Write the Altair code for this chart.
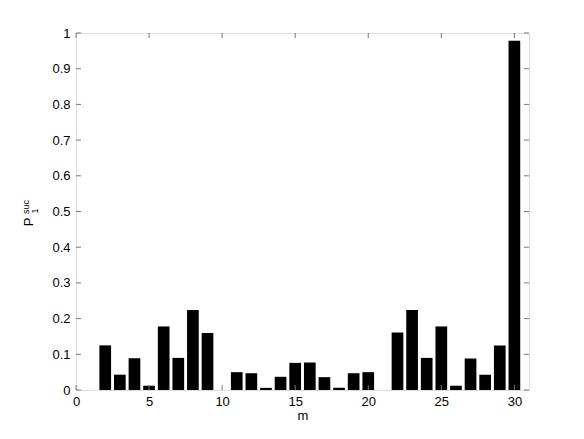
import altair as alt
import pandas as pd

# data
m_values = list(range(1, 31))
p_values = [0.0, 0.125, 0.043, 0.089, 0.012, 0.178, 0.090, 0.224, 0.160, 0.0,
            0.050, 0.047, 0.006, 0.037, 0.076, 0.077, 0.036, 0.006, 0.047, 0.050,
            0.0, 0.161, 0.224, 0.090, 0.178, 0.012, 0.088, 0.043, 0.125, 0.978]
x_ticks = [0, 5, 10, 15, 20, 25, 30]
y_ticks = [0, 0.1, 0.2, 0.3, 0.4, 0.5, 0.6, 0.7, 0.8, 0.9, 1]

W, H = 453, 357
FONT = "Liberation Sans"
AX = "#777777"

df = pd.DataFrame({"m": m_values, "p": p_values})
xt = pd.DataFrame({"t": x_ticks})
yt = pd.DataFrame({"t": y_ticks})

xscale = alt.Scale(domain=[0, 31], nice=False, zero=False)
yscale = alt.Scale(domain=[0, 1], nice=False)

xaxis = alt.Axis(values=x_ticks, title="m", tickSize=0, domain=False,
                 grid=False, labelPadding=5, labelFontSize=13,
                 labelOverlap=False, labelFlush=False,
                 titleFontSize=13, titleFontWeight="normal",
                 titlePadding=1, labelColor="black", titleColor="black",
                 labelFont=FONT, titleFont=FONT)
yaxis = alt.Axis(values=y_ticks, title=None, tickSize=0, domain=False,
                 grid=False, labelPadding=6, labelFontSize=13,
                 labelOverlap=False, labelFlush=False,
                 labelColor="black", labelFont=FONT,
                 labelExpr="datum.value == 0 ? '0' : datum.value == 1 ? '1' : format(datum.value, '.1f')")

bars = alt.Chart(df).transform_calculate(
    x0="datum.m - 0.4", x1="datum.m + 0.4", lo="0"
).mark_rect(color="black").encode(
    x=alt.X("x0:Q", scale=xscale, axis=xaxis, title="m"),
    x2="x1:Q",
    y=alt.Y("p:Q", scale=yscale, axis=yaxis, title=None),
    y2="lo:Q",
)

xb = alt.Chart(xt).mark_rule(color=AX).encode(
    x=alt.X("t:Q", scale=xscale, axis=xaxis, title="m"), y=alt.value(H), y2=alt.value(H - 5))
xtop = alt.Chart(xt).mark_rule(color=AX).encode(
    x=alt.X("t:Q", scale=xscale, axis=xaxis, title="m"), y=alt.value(0), y2=alt.value(5))
yl = alt.Chart(yt).mark_rule(color=AX).encode(
    y=alt.Y("t:Q", scale=yscale, axis=yaxis, title=None), x=alt.value(0), x2=alt.value(5))
yr = alt.Chart(yt).mark_rule(color=AX).encode(
    y=alt.Y("t:Q", scale=yscale, axis=yaxis, title=None), x=alt.value(W), x2=alt.value(W - 5))

one = alt.Data(values=[{"a": 1}])
p_lab = alt.Chart(one).mark_text(angle=270, font=FONT, fontSize=13, color="black",
                                 align="center", baseline="middle").encode(
    x=alt.value(-47), y=alt.value(189), text=alt.value("P"))
sup_lab = alt.Chart(one).mark_text(angle=270, font=FONT, fontSize=9, color="black",
                                   align="center", baseline="middle").encode(
    x=alt.value(-50), y=alt.value(174), text=alt.value("suc"))
sub_lab = alt.Chart(one).mark_text(angle=270, font=FONT, fontSize=9, color="black",
                                   align="center", baseline="middle").encode(
    x=alt.value(-41), y=alt.value(178), text=alt.value("1"))

chart = alt.layer(bars, xb, xtop, yl, yr, p_lab, sup_lab, sub_lab).properties(
    width=W, height=H,
    autosize=alt.AutoSizeParams(type="none"),
    padding={"left": 68, "top": 25, "right": 40, "bottom": 40},
).configure_view(stroke=AX, strokeWidth=1).configure(background="white")

chart.save("out.html", embed_options={"renderer": "svg", "actions": False})
